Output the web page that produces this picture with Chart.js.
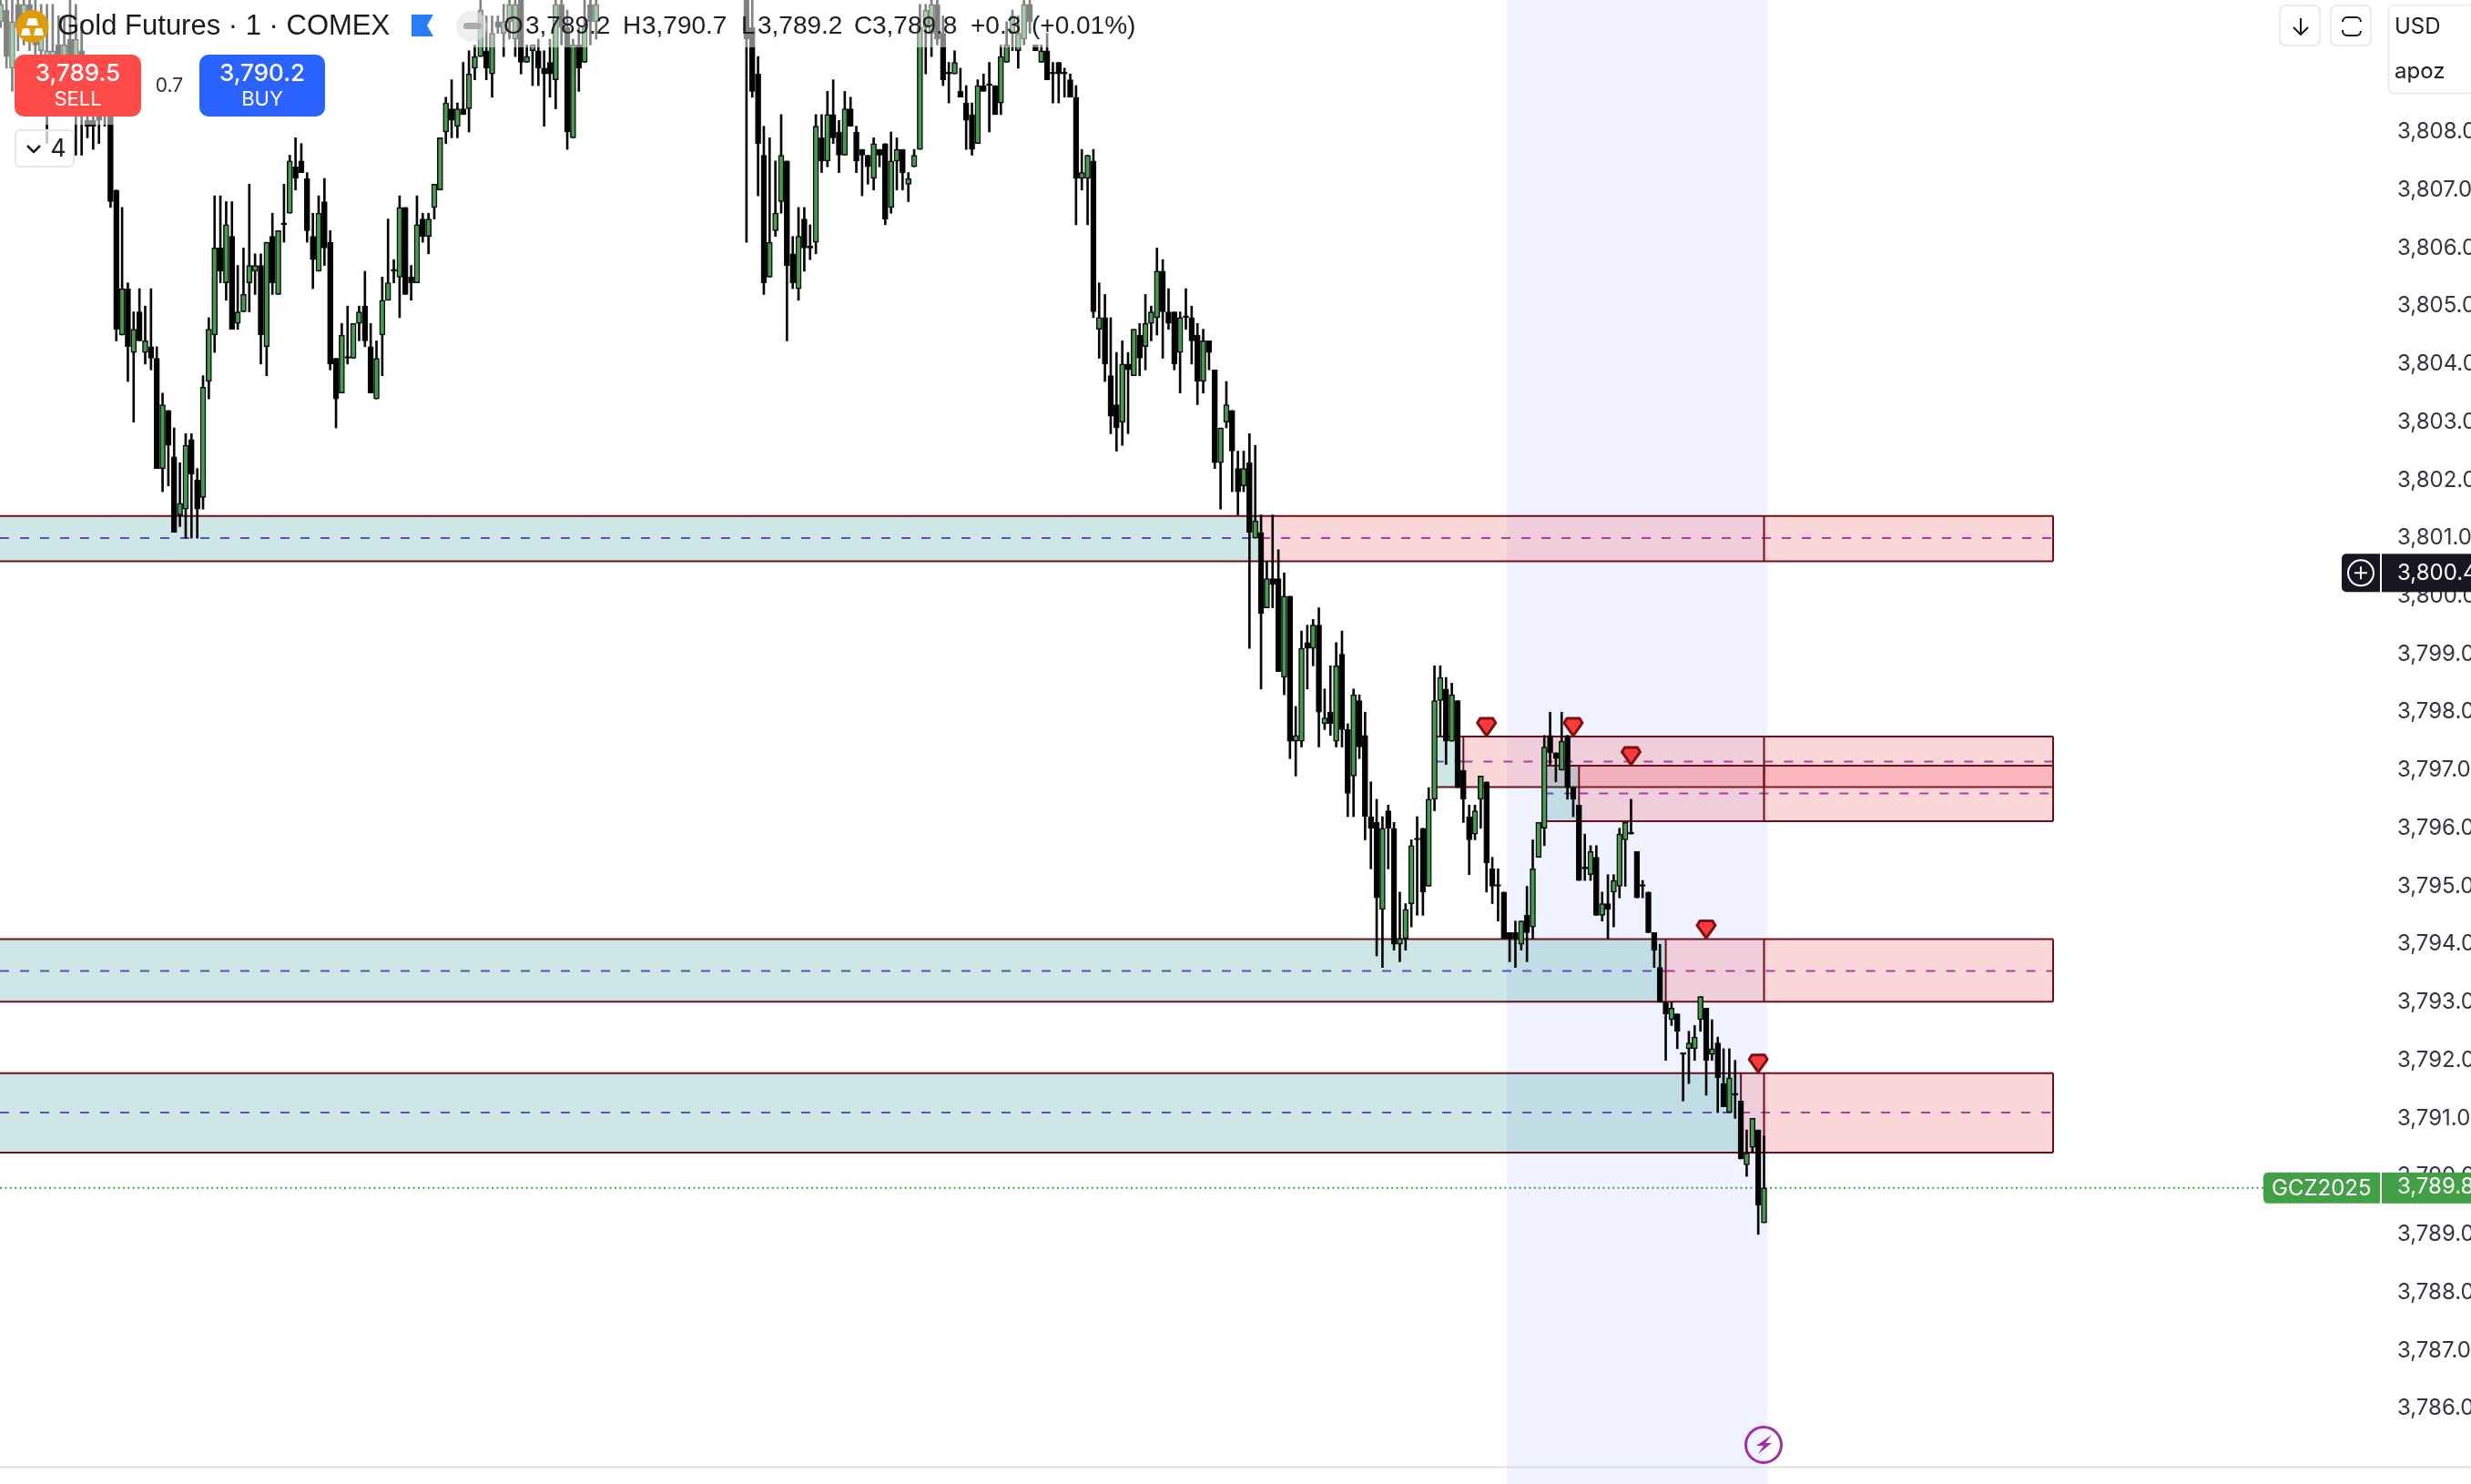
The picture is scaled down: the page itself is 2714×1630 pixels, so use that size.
<!DOCTYPE html>
<html>
<head>
<meta charset="utf-8">
<title>Gold Futures</title>
<script src="https://cdn.jsdelivr.net/npm/chart.js@4"></script>
<style>
  html, body { margin: 0; padding: 0; background: #fff; overflow: hidden; }
  canvas { display: block; }
</style>
</head>
<body>
<canvas id="goldChart" width="2714" height="1630"></canvas>
<script>
// one candle per minute. nulls = candles above the visible range
var opens = [
3809.9,3810.1,3809.1,3810.2,3809.8,3810.2,3810.0,3809.4,3809.0,3809.0,
3809.5,3808.9,3809.6,3808.9,3809.4,3808.2,3808.2,3808.6,3808.4,3808.4,
3807.0,3804.5,3805.3,3804.2,3804.9,3804.2,3804.3,3804.1,3802.2,3803.2,
3802.4,3801.4,3801.5,3802.7,3802.0,3801.7,3803.7,3804.5,3806.0,3805.4,
3806.2,3804.7,3804.9,3805.4,3805.6,3805.7,3804.3,3806.2,3805.2,3806.4,
3806.6,3807.4,3807.5,3807.2,3806.2,3805.6,3806.8,3806.1,3804.1,3803.5,
3804.1,3804.1,3804.7,3805.0,3804.3,3803.4,3804.5,3805.1,3805.6,3805.5,
3806.7,3805.5,3805.4,3806.5,3806.2,3806.7,3807.0,3808.0,3808.4,3808.1,
3808.4,3808.4,3809.1,3809.3,3809.4,3809.0,3809.9,3809.7,3809.9,3809.6,
3810.3,3809.2,3809.4,3809.4,3809.1,3809.2,3808.9,3810.2,3809.8,3807.9,
3809.5,3809.2,3810.2,3809.9,
null,null,null,null,null,null,null,null,null,null,null,null,null,null,null,null,null,null,null,null,null,null,null,null,null,
3810.3,3809.8,3809.0,3807.6,3805.5,3806.3,3806.8,3807.5,3805.9,3805.3,3806.5,
3806.0,3806.1,3807.9,3807.5,3808.3,3808.0,3807.6,3808.4,3808.0,3807.7,
3807.6,3807.2,3807.7,3807.8,3806.7,3807.5,3807.7,3807.1,3807.4,3807.7,
3809.8,3809.7,3810.2,3809.7,3809.0,3809.0,3808.7,3808.5,3808.3,3807.8,
3808.8,3808.8,3808.8,3808.5,3809.2,3809.7,3809.4,3809.6,3810.2,3809.5,
3809.2,3809.4,3809.0,3809.2,3809.0,3808.9,3808.6,3807.2,3807.2,3807.5,
3804.6,3804.8,3803.8,3803.3,3803.0,3804.0,3803.8,3804.5,3804.3,3804.7,
3804.8,3805.6,3804.9,3804.9,3804.2,3804.8,3804.8,3804.5,3803.7,3804.4,
3803.9,3802.3,3803.0,3803.2,3802.2,3801.9,3802.3,3801.0,3801.1,3799.8,
3800.3,3800.3,3798.6,3800.0,3797.5,3797.5,3799.2,3799.1,3799.5,3797.8,
3798.0,3797.5,3799.0,3797.7,3796.9,3798.2,3797.6,3796.2,3796.1,3794.6,
3796.3,3796.0,3794.0,3794.1,3794.7,3795.8,3796.0,3795.0,3796.5,3798.2,
3798.4,3797.5,3798.2,3797.0,3796.2,3795.9,3796.5,3796.8,3795.3,3795.0,
3794.9,3794.2,3794.2,3794.0,3794.5,3794.3,3795.5,3796.0,3797.6,3797.3,
3797.0,3797.6,3796.7,3796.4,3795.3,3795.2,3795.5,3794.5,3794.7,3794.9,
3795.0,3795.8,3795.9,3795.6,3795.0,3794.9,3794.2,3793.6,3793.0,3792.7,
3792.8,3792.1,3792.2,3792.2,3792.7,3792.9,3792.1,3792.3,3791.6,3791.1,
3791.4,3791.3,3790.2,3790.5,3790.8,3789.2
];
var highs = [
3810.3,3810.3,3810.3,3810.3,3810.3,3810.3,3810.3,3810.2,3810.2,3810.2,
3810.0,3810.0,3810.3,3810.2,3809.9,3809.1,3809.0,3809.1,3809.3,3808.9,
3807.0,3806.7,3805.4,3804.9,3805.3,3805.0,3805.3,3804.3,3803.5,3803.2,
3802.9,3802.3,3802.8,3802.8,3802.2,3803.8,3804.8,3806.9,3806.9,3806.8,
3806.8,3805.7,3806.0,3807.1,3805.9,3805.9,3806.1,3806.6,3806.3,3807.1,
3807.6,3807.9,3807.8,3807.3,3806.6,3806.9,3807.2,3806.3,3804.1,3804.7,
3805.0,3804.7,3805.0,3805.6,3804.7,3804.4,3805.5,3806.5,3805.8,3806.9,
3806.7,3805.7,3806.9,3806.6,3806.6,3807.1,3807.9,3808.6,3808.9,3808.5,
3809.2,3809.4,3809.5,3810.3,3810.0,3810.0,3810.0,3810.2,3810.3,3810.3,
3810.3,3809.5,3809.5,3809.6,3809.4,3809.6,3810.3,3810.3,3810.1,3809.6,
3809.8,3810.3,3810.3,3810.3,
null,null,null,null,null,null,null,null,null,null,null,null,null,null,null,null,null,null,null,null,null,null,null,null,null,
3810.3,3810.3,3809.3,3808.1,3807.9,3807.5,3808.3,3807.5,3806.2,3806.7,3806.7,
3806.4,3808.3,3808.3,3808.7,3808.9,3808.2,3808.7,3808.6,3808.1,3807.7,
3807.6,3807.9,3807.7,3807.8,3808.0,3807.9,3807.7,3807.3,3807.7,3810.2,
3810.2,3810.3,3810.3,3810.0,3809.2,3809.4,3809.1,3808.8,3808.5,3808.9,
3809.0,3809.2,3808.8,3809.5,3809.9,3810.1,3810.0,3810.3,3810.3,3809.5,
3809.5,3809.7,3809.2,3809.2,3809.1,3809.0,3808.8,3807.7,3807.6,3807.7,
3805.4,3805.2,3804.8,3804.2,3804.4,3804.2,3804.6,3804.7,3805.2,3805.0,
3806.0,3805.8,3805.3,3804.9,3804.9,3805.3,3805.0,3804.7,3804.6,3804.4,
3803.9,3802.9,3803.7,3803.2,3802.5,3802.5,3802.8,3802.6,3801.4,3800.6,
3801.4,3800.8,3800.4,3800.0,3798.1,3799.4,3799.5,3799.6,3799.8,3798.4,
3798.8,3799.2,3799.4,3797.8,3798.4,3798.3,3798.0,3796.8,3796.5,3796.2,
3796.4,3796.1,3794.9,3794.7,3795.8,3796.2,3796.0,3796.7,3798.8,3798.8,
3798.6,3798.5,3798.2,3797.0,3796.4,3796.4,3796.9,3796.8,3795.5,3795.3,
3794.9,3794.2,3794.4,3794.4,3795.0,3795.8,3796.1,3797.6,3798.0,3797.3,
3798.0,3797.6,3796.7,3796.4,3795.9,3795.7,3795.7,3794.9,3795.2,3795.2,
3796.0,3796.1,3796.5,3795.6,3795.1,3794.9,3794.2,3794.0,3793.0,3793.0,
3792.8,3792.1,3792.5,3792.6,3793.1,3792.9,3792.7,3792.4,3792.2,3792.2,
3792.0,3791.3,3790.8,3791.0,3790.8,3790.7
];
var lows = [
3809.8,3809.1,3808.7,3809.4,3809.5,3809.4,3809.2,3809.0,3807.8,3808.5,
3808.4,3808.4,3808.4,3807.6,3807.6,3807.9,3807.7,3807.8,3808.1,3806.7,
3804.4,3804.5,3803.7,3803.0,3804.4,3804.0,3803.9,3802.2,3801.8,3801.9,
3801.1,3801.2,3801.0,3801.0,3801.0,3801.5,3803.4,3804.2,3805.4,3805.1,
3804.6,3804.6,3804.9,3804.9,3805.2,3804.0,3803.8,3805.2,3805.2,3806.1,
3806.6,3807.0,3807.3,3806.1,3805.3,3805.6,3805.7,3803.9,3802.9,3803.5,
3804.0,3804.1,3804.4,3804.3,3803.5,3803.4,3803.8,3805.1,3805.4,3804.8,
3805.2,3805.1,3805.4,3806.1,3805.9,3806.5,3807.0,3807.8,3807.9,3807.9,
3808.3,3808.0,3808.9,3809.3,3808.9,3808.6,3809.7,3809.3,3809.6,3809.3,
3809.0,3809.2,3808.8,3808.8,3808.1,3808.6,3808.4,3809.5,3807.7,3807.9,
3808.7,3809.2,3809.5,3809.6,
null,null,null,null,null,null,null,null,null,null,null,null,null,null,null,null,null,null,null,null,null,null,null,null,null,
3806.1,3808.6,3806.9,3805.2,3805.5,3806.2,3806.6,3804.4,3805.3,3805.1,3805.6,
3805.8,3805.9,3807.3,3807.4,3807.8,3807.3,3807.6,3808.1,3807.3,3806.9,
3807.1,3807.0,3807.4,3806.4,3806.6,3807.0,3807.0,3806.8,3807.4,3807.7,
3809.0,3809.3,3809.5,3808.8,3808.5,3809.0,3808.6,3807.7,3807.6,3807.8,
3808.7,3808.0,3808.3,3808.3,3809.2,3809.4,3809.1,3809.5,3809.7,3809.4,
3809.2,3808.9,3808.5,3808.5,3808.6,3808.6,3806.4,3807.0,3806.4,3804.8,
3804.1,3803.7,3802.8,3802.5,3802.6,3802.8,3803.8,3803.8,3803.9,3804.4,
3804.5,3804.1,3804.6,3803.9,3803.5,3804.6,3804.0,3803.3,3803.5,3803.9,
3802.2,3801.5,3802.9,3801.8,3801.4,3801.8,3799.1,3801.0,3798.4,3799.8,
3799.8,3798.7,3798.3,3797.2,3796.9,3797.4,3798.4,3798.8,3797.4,3797.7,
3797.6,3797.4,3797.4,3796.2,3796.2,3797.2,3795.8,3795.3,3793.8,3793.6,
3795.3,3793.9,3793.7,3793.9,3794.3,3794.5,3794.5,3795.0,3796.3,3797.6,
3797.1,3797.5,3796.7,3796.1,3795.2,3795.8,3796.0,3794.9,3794.7,3794.4,
3794.1,3793.7,3793.6,3793.9,3793.7,3794.1,3795.5,3795.7,3797.1,3796.8,
3797.0,3796.5,3796.2,3795.1,3795.1,3795.1,3794.5,3794.4,3794.1,3794.3,
3794.8,3795.0,3795.9,3794.8,3794.8,3794.2,3793.6,3793.0,3792.0,3792.6,
3792.2,3791.3,3791.6,3792.0,3792.5,3791.4,3792.0,3791.1,3791.2,3791.1,
3791.0,3790.3,3790.0,3790.4,3789.0,3789.2
];
var closes = [
3810.2,3809.3,3809.9,3809.8,3810.2,3809.7,3809.5,3810.0,3809.4,3809.4,
3808.9,3809.5,3809.0,3809.6,3808.8,3808.1,3808.1,3808.2,3808.8,3806.8,
3804.6,3805.3,3804.3,3804.6,3804.4,3804.4,3804.1,3802.2,3803.3,3802.6,
3801.1,3801.6,3802.6,3802.1,3801.5,3803.6,3804.6,3806.0,3805.6,3806.4,
3804.6,3804.9,3805.2,3805.7,3805.7,3804.5,3806.1,3805.4,3806.3,3806.4,
3807.5,3807.2,3807.3,3806.3,3805.8,3806.6,3806.0,3804.0,3803.4,3804.5,
3804.1,3804.7,3804.9,3804.4,3803.5,3804.1,3805.1,3805.4,3805.6,3806.7,
3805.2,3805.4,3806.4,3806.2,3806.5,3807.1,3807.9,3808.5,3808.2,3808.4,
3808.3,3809.0,3809.3,3810.1,3809.1,3809.7,3809.8,3809.9,3810.2,3810.2,
3809.2,3809.3,3809.5,3809.1,3809.0,3809.0,3810.2,3809.8,3808.0,3809.5,
3809.1,3809.8,3809.9,3810.2,
null,null,null,null,null,null,null,null,null,null,null,null,null,null,null,null,null,null,null,null,null,null,null,null,null,
3809.6,3808.7,3807.8,3805.4,3806.1,3806.6,3807.6,3805.7,3805.4,3806.2,3806.0,
3806.0,3808.1,3807.5,3808.3,3807.9,3807.6,3808.4,3808.1,3807.5,3807.6,
3807.4,3807.8,3807.6,3806.5,3807.5,3807.7,3807.3,3807.2,3807.6,3809.8,
3810.1,3810.2,3809.6,3808.9,3809.0,3809.2,3808.6,3808.2,3807.7,3808.8,
3808.7,3808.8,3808.3,3809.3,3809.5,3810.0,3809.7,3810.2,3809.9,3809.4,
3809.4,3808.9,3809.0,3809.0,3809.0,3808.6,3807.2,3807.3,3807.6,3804.9,
3804.8,3804.0,3803.1,3802.9,3804.0,3803.9,3804.6,3804.1,3804.7,3804.9,
3805.6,3804.9,3804.7,3804.0,3804.8,3804.8,3804.4,3803.7,3804.4,3804.2,
3802.3,3802.9,3803.3,3802.5,3801.8,3802.2,3801.1,3801.3,3799.7,3800.3,
3800.2,3798.7,3800.0,3797.5,3797.6,3799.1,3799.1,3799.5,3798.0,3797.9,
3797.8,3798.8,3797.7,3796.6,3798.3,3797.4,3796.2,3796.0,3794.8,3796.0,
3796.0,3794.0,3794.1,3794.6,3795.7,3795.8,3794.9,3796.5,3798.2,3798.6,
3797.5,3798.3,3796.7,3796.5,3795.8,3796.3,3796.9,3795.4,3795.0,3795.0,
3794.1,3794.1,3794.1,3794.4,3794.2,3795.3,3796.1,3797.4,3797.3,3797.2,
3797.5,3796.7,3796.5,3795.1,3795.3,3795.6,3794.5,3794.7,3794.6,3795.1,
3795.9,3796.1,3795.9,3794.8,3795.0,3794.2,3793.9,3793.0,3792.8,3792.9,
3792.5,3792.1,3792.3,3792.4,3793.1,3792.0,3792.2,3791.7,3791.2,3791.7,
3791.4,3790.3,3790.4,3791.0,3789.5,3789.8
];
var priceTicks = [3786,3787,3788,3789,3790,3791,3792,3793,3794,3795,3796,3797,3798,3799,3800,3801,3802,3803,3804,3805,3806,3807,3808];

// supply / demand zones
var zoneTop    = [3801.38, 3797.58, 3797.08, 3794.09, 3791.78];
var zoneBottom = [3800.60, 3796.71, 3796.12, 3793.01, 3790.41];
var zoneMid    = [3801.00, 3797.15, 3796.60, 3793.54, 3791.10];
var zoneTealStart = [null, 248, 267, null, null];
var zoneRedStart  = [218, 253, 273, 288, 301];
var zoneEnd = 355;
var lastCandle = 305;
var markerIndex = [257, 272, 282, 295, 304];
var markerPrice = [3797.58, 3797.58, 3797.08, 3794.09, 3791.78];
var sessionStart = 260.5, sessionEnd = 305.6;
var lastPrice = 3789.8, crosshairPrice = 3800.4;

var candleIdx = [];
for (var n = 0; n < opens.length; n++) { if (opens[n] !== null) candleIdx.push(n); }
var wickPoints = candleIdx.map(function (i) { return { x: i, y: [lows[i], highs[i]] }; });
var bodyPoints = candleIdx.map(function (i) { return { x: i, y: [opens[i], closes[i]] }; });

var sans = 'Inter, "Noto Sans", sans-serif';

function rounded(c, x, y, w, h, r, fill, stroke) {
    c.beginPath();
    c.roundRect(x, y, w, h, r);
    if (fill) { c.fillStyle = fill; c.fill(); }
    if (stroke) { c.strokeStyle = stroke; c.lineWidth = 2; c.stroke(); }
}
function label(c, txt, x, y, font, color, align) {
    c.font = font;
    c.fillStyle = color;
    c.textAlign = align || 'left';
    c.textBaseline = 'middle';
    c.fillText(txt, x, y);
}

var zonesPlugin = {
    id: 'zones',
    beforeDatasetsDraw: function (chart) {
        var c = chart.ctx, xs = chart.scales.x, ys = chart.scales.y;
        c.save();
        c.fillStyle = 'rgba(41,68,255,0.07)';
        var sx = xs.getPixelForValue(sessionStart), ex = xs.getPixelForValue(sessionEnd);
        c.fillRect(sx, 0, ex - sx, 1630);

        c.strokeStyle = '#e0e0e3';
        c.lineWidth = 2;
        c.beginPath(); c.moveTo(0, 1611.5); c.lineTo(2714, 1611.5); c.stroke();

        var yLast = ys.getPixelForValue(lastPrice);
        c.strokeStyle = '#43a047';
        c.setLineDash([2, 3.4]);
        c.beginPath(); c.moveTo(0, yLast); c.lineTo(2486, yLast); c.stroke();
        c.setLineDash([]);

        var endX = xs.getPixelForValue(zoneEnd), lastX = xs.getPixelForValue(lastCandle);
        zoneTop.forEach(function (top, k) {
            var t = ys.getPixelForValue(top), b = ys.getPixelForValue(zoneBottom[k]), m = ys.getPixelForValue(zoneMid[k]);
            var tealX = zoneTealStart[k] === null ? 0 : xs.getPixelForValue(zoneTealStart[k]);
            var redX = xs.getPixelForValue(zoneRedStart[k]);
            c.fillStyle = 'rgba(0,137,123,0.2)';
            c.fillRect(tealX, t, redX - tealX, b - t);
            c.fillStyle = 'rgba(242,54,69,0.2)';
            c.fillRect(redX, t, endX - redX, b - t);

            c.lineWidth = 2;
            c.setLineDash([10, 12]);
            c.strokeStyle = '#6a4bb5';
            c.beginPath(); c.moveTo(tealX, m); c.lineTo(redX, m); c.stroke();
            c.strokeStyle = '#b03c9c';
            c.beginPath(); c.moveTo(redX, m); c.lineTo(endX, m); c.stroke();
            c.setLineDash([]);

            c.strokeStyle = '#6c1118';
            c.lineWidth = 2;
            c.beginPath();
            c.moveTo(tealX, t); c.lineTo(endX, t);
            c.moveTo(tealX, b); c.lineTo(endX, b);
            c.moveTo(redX, t); c.lineTo(redX, b);
            c.moveTo(lastX, t); c.lineTo(lastX, b);
            c.moveTo(endX, t); c.lineTo(endX, b);
            c.stroke();
        });
        c.restore();
    },
    afterDraw: function (chart) {
        var c = chart.ctx, xs = chart.scales.x, ys = chart.scales.y;
        c.save();

        // sell markers
        markerIndex.forEach(function (idx, k) {
            var mx = xs.getPixelForValue(idx), my = ys.getPixelForValue(markerPrice[k]);
            c.beginPath();
            c.moveTo(mx, my - 1);
            c.lineTo(mx - 10, my - 15);
            c.lineTo(mx - 7, my - 20);
            c.lineTo(mx + 7, my - 20);
            c.lineTo(mx + 10, my - 15);
            c.closePath();
            c.fillStyle = '#fb3b3b';
            c.fill();
            c.strokeStyle = '#7c1012';
            c.lineWidth = 3;
            c.lineJoin = 'round';
            c.stroke();
        });

        // header panel is see-through over the candles
        c.fillStyle = 'rgba(255,255,255,0.5)';
        c.fillRect(0, 0, 1180, 52);
        c.fillRect(0, 52, 160, 85);

        c.fillStyle = '#e09b0b';
        c.beginPath(); c.arc(35.5, 29, 18, 0, Math.PI * 2); c.fill();
        c.fillStyle = '#fff';
        [[29, 20, 13], [23, 31, 11], [37, 31, 11]].forEach(function (b) {
            c.beginPath();
            c.moveTo(b[0] + 2, b[1]); c.lineTo(b[0] + b[2] - 2, b[1]);
            c.lineTo(b[0] + b[2], b[1] + 8); c.lineTo(b[0], b[1] + 8);
            c.closePath(); c.fill();
        });

        label(c, 'Gold Futures · 1 · COMEX', 63, 29, '31px "Liberation Sans", sans-serif', '#1a1a1f');

        c.fillStyle = '#2a7bf6';
        c.beginPath(); c.moveTo(452, 16); c.lineTo(476, 16); c.lineTo(469, 28); c.lineTo(476, 40);
        c.lineTo(452, 40); c.closePath(); c.fill();

        c.fillStyle = 'rgba(225,225,228,0.55)';
        c.beginPath(); c.arc(518, 29, 17, 0, Math.PI * 2); c.fill();
        rounded(c, 509, 25, 20, 7, 3.5, '#a9a9ae');

        var ohlc = [['O', 553], ['3,789.2', 577], ['H', 684], ['3,790.7', 705], ['L', 814], ['3,789.2', 832],
                    ['C', 938], ['3,789.8', 958], ['+0.3', 1066], ['(+0.01%)', 1133]];
        ohlc.forEach(function (t) { label(c, t[0], t[1], 29, '28px "Liberation Sans", sans-serif', '#1d1d22'); });

        // order buttons
        rounded(c, 16, 60, 139, 68, 10, '#ff4a4a');
        label(c, '3,789.5', 85.5, 81, '500 26px ' + sans, '#fff', 'center');
        label(c, 'SELL', 85.5, 109, '22px ' + sans, '#fff', 'center');
        label(c, '0.7', 186, 95, '21px ' + sans, '#2a2e39', 'center');
        rounded(c, 219, 60, 138, 68, 10, '#2962ff');
        label(c, '3,790.2', 288, 81, '500 26px ' + sans, '#fff', 'center');
        label(c, 'BUY', 288, 109, '22px ' + sans, '#fff', 'center');

        rounded(c, 17, 143, 64, 40, 5, 'rgba(255,255,255,0.75)', '#e4e5ea');
        c.strokeStyle = '#1d1d22';
        c.lineWidth = 2.5;
        c.beginPath(); c.moveTo(30, 160); c.lineTo(37, 167); c.lineTo(44, 160); c.stroke();
        label(c, '4', 64, 164, '27px ' + sans, '#1d1d22', 'center');

        // top right buttons
        rounded(c, 2504, 6, 44, 44, 6, '#fff', '#ececf0');
        c.strokeStyle = '#131722';
        c.lineWidth = 2;
        c.beginPath();
        c.moveTo(2527, 20); c.lineTo(2527, 38);
        c.moveTo(2519, 30); c.lineTo(2527, 38); c.lineTo(2535, 30);
        c.stroke();
        rounded(c, 2560, 6, 44, 44, 6, '#fff', '#ececf0');
        c.strokeStyle = '#131722';
        c.beginPath();
        c.moveTo(2573, 24); c.arcTo(2573, 19, 2578, 19, 5); c.lineTo(2588, 19); c.arcTo(2593, 19, 2593, 24, 5);
        c.moveTo(2573, 33); c.arcTo(2573, 39, 2578, 39, 5); c.lineTo(2588, 39); c.arcTo(2593, 39, 2593, 33, 5);
        c.stroke();
        rounded(c, 2623.5, 5.5, 120, 97, 6, '#fff', '#ececf0');
        label(c, 'USD', 2630, 30, '24px ' + sans, '#1d1d22');
        label(c, 'apoz', 2630, 79, '24px ' + sans, '#1d1d22');

        // crosshair price tag
        var yCross = ys.getPixelForValue(crosshairPrice);
        rounded(c, 2572, yCross - 21, 42, 42, [5, 0, 0, 5], '#171722');
        c.strokeStyle = '#fff';
        c.lineWidth = 2;
        c.beginPath(); c.arc(2593, yCross, 14, 0, Math.PI * 2); c.stroke();
        c.beginPath();
        c.moveTo(2586, yCross); c.lineTo(2600, yCross);
        c.moveTo(2593, yCross - 7); c.lineTo(2593, yCross + 7);
        c.stroke();
        c.fillStyle = '#171722';
        c.fillRect(2616, yCross - 21, 98, 42);
        label(c, '3,800.4', 2633, yCross, '24px ' + sans, '#fff');

        // last price tag
        var yLast = ys.getPixelForValue(lastPrice);
        rounded(c, 2486, yLast - 17, 128, 34, [5, 0, 0, 5], '#43a047');
        label(c, 'GCZ2025', 2495, yLast + 1, '24px ' + sans, '#fff');
        c.fillStyle = '#43a047';
        c.fillRect(2616, yLast - 17, 98, 34);
        label(c, '3,789.8', 2633, yLast - 1, '24px ' + sans, '#fff');

        // lightning badge
        c.strokeStyle = '#9c2fa8';
        c.lineWidth = 3;
        c.beginPath(); c.arc(1937, 1587, 19.5, 0, Math.PI * 2); c.stroke();
        c.fillStyle = '#9c2fa8';
        c.beginPath();
        c.moveTo(1946, 1576); c.lineTo(1929, 1588); c.lineTo(1937, 1588); c.lineTo(1931, 1597);
        c.lineTo(1946, 1585); c.lineTo(1939, 1585); c.closePath(); c.fill();
        c.restore();
    }
};

var goldChart = new Chart(document.getElementById('goldChart').getContext('2d'), {
    type: 'bar',
    data: {
        datasets: [{
            label: 'Body',
            data: bodyPoints,
            grouped: false,
            barThickness: 6,
            minBarLength: 2,
            borderSkipped: false,
            borderWidth: 1.5,
            borderColor: '#0a0a0a',
            backgroundColor: function (ctx) {
                var p = ctx.raw;
                return p && p.y[1] > p.y[0] ? '#479a50' : '#000000';
            }
        }, {
            label: 'Wick',
            data: wickPoints,
            grouped: false,
            barThickness: 2,
            borderWidth: 0,
            backgroundColor: '#050505'
        }]
    },
    options: {
        responsive: false,
        animation: false,
        layout: { padding: 0 },
        plugins: { legend: { display: false }, tooltip: { enabled: false } },
        scales: {
            x: {
                type: 'linear',
                display: false,
                offset: false,
                min: -0.118,
                max: 414.37
            },
            y: {
                position: 'right',
                min: 3784.698,
                max: 3810.275,
                grid: { display: false, drawTicks: false },
                border: { display: false },
                afterBuildTicks: function (scale) {
                    scale.ticks = priceTicks.map(function (p) { return { value: p }; });
                },
                afterFit: function (scale) {
                    scale.width = 82;
                    scale.paddingTop = 0;
                    scale.paddingBottom = 0;
                },
                ticks: {
                    autoSkip: false,
                    padding: 1,
                    color: '#33363f',
                    font: { family: 'Inter', size: 24 },
                    callback: function (v) {
                        return v.toLocaleString('en-US', { minimumFractionDigits: 1, maximumFractionDigits: 1 });
                    }
                }
            }
        }
    },
    plugins: [zonesPlugin]
});
</script>
</body>
</html>
